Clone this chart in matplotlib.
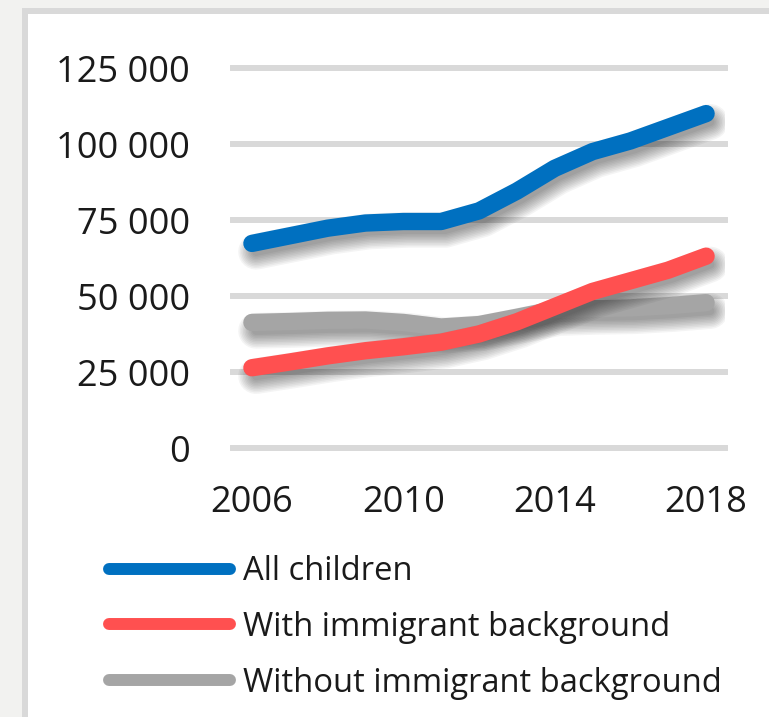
import matplotlib
matplotlib.use("Agg")
import matplotlib.pyplot as plt
import matplotlib.patheffects as pe
from matplotlib.patches import Rectangle
from matplotlib.ticker import FuncFormatter

# values
years = [2006, 2007, 2008, 2009, 2010, 2011, 2012, 2013, 2014, 2015, 2016, 2017, 2018]
all_children = [67300, 69800, 72300, 74000, 74500, 74500, 78000, 84500, 92000, 97500, 101000, 105500, 110000]
with_immigrant = [26400, 28300, 30300, 32000, 33300, 34800, 37500, 41500, 46500, 51500, 55000, 58500, 63100]
without_immigrant = [41300, 41600, 42000, 42100, 41300, 39800, 40600, 43000, 45500, 45900, 46100, 46800, 47800]

series_names = ["All children", "With immigrant background", "Without immigrant background"]
series_colors = ["#0070c0", "#ff5050", "#a5a5a5"]
x_ticks = [2006, 2010, 2014, 2018]
y_ticks = [0, 25000, 50000, 75000, 100000, 125000]

plt.rcParams['font.family'] = ['Open Sans', 'DejaVu Sans']

W, H = 769, 717
fig = plt.figure(figsize=(W / 100, H / 100), dpi=100)
fig.patch.set_facecolor("#f2f2f0")

# white chart panel with grey border
panel = Rectangle((25 / W, -0.05), 1.0, (1 - 11 / H) + 0.05, transform=fig.transFigure,
                  facecolor="white", edgecolor="#d9d9d9", linewidth=4.3, zorder=-5)
fig.patches.append(panel)

ax = fig.add_axes([233 / W, (H - 448) / H, (725 - 233) / W, (448 - 68) / H])
ax.set_facecolor("none")
ax.set_zorder(1)

# soft drop shadow like the Excel line effect (stacked faint layers = blur)
shadow = [pe.SimpleLineShadow(offset=(3, -6), shadow_color="black", alpha=0.045, rho=1,
                              linewidth=6 + 2.2 * k) for k in range(10)]
shadow.append(pe.Normal())

data = [all_children, with_immigrant, without_immigrant]
zorders = [3, 5, 4]
for vals, name, col, z in zip(data, series_names, series_colors, zorders):
    ax.plot(years, vals, color=col, lw=12.5, solid_capstyle="round", solid_joinstyle="round",
            label=name, zorder=z, path_effects=shadow)

ax.set_xlim(2005.5, 2018.5)
ax.set_ylim(0, 125000)
ax.set_xticks(x_ticks)
ax.set_yticks(y_ticks)
ax.yaxis.set_major_formatter(FuncFormatter(lambda v, p: f"{int(v):,}".replace(",", " ")))
ax.tick_params(axis="both", length=0, labelsize=26, labelcolor="#1a1a1a")
ax.tick_params(axis="x", pad=27)
ax.tick_params(axis="y", pad=31)

ax.yaxis.grid(True, color="#d9d9d9", lw=4.3)
ax.xaxis.grid(False)
ax.set_axisbelow(True)
for gl in ax.get_ygridlines():
    gl.set_clip_on(False)
for s in ax.spines.values():
    s.set_visible(False)

leg = ax.legend(loc="upper left", bbox_to_anchor=(109 / W, 1 - 555 / H),
                bbox_transform=fig.transFigure, frameon=False, fontsize=23.6,
                handlelength=3.7, handletextpad=0.38, labelspacing=0.7, borderpad=0,
                borderaxespad=0)
for ln in leg.get_lines():
    ln.set_linewidth(8.6)
    ln.set_path_effects([])
for t in leg.get_texts():
    t.set_color("#1a1a1a")

fig.savefig("out.png", dpi=100, facecolor=fig.get_facecolor())
